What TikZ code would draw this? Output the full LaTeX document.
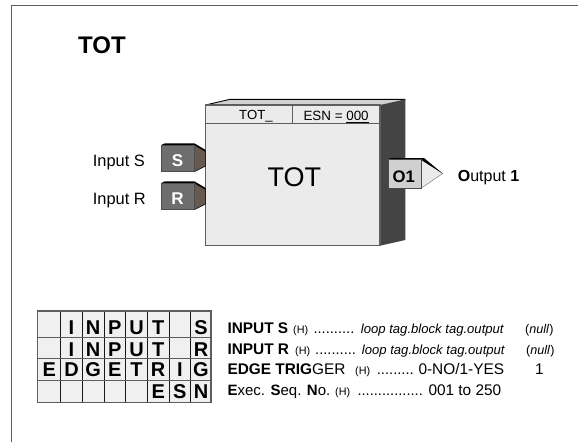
\documentclass[tikz,border=0pt]{standalone}
\usepackage{fontspec}
\setmainfont{Liberation Sans}
\usepackage{xcolor}
\definecolor{framegray}{HTML}{5E5E5E}
\definecolor{facegray}{HTML}{EBEBEB}
\definecolor{topgray}{HTML}{D2D2D2}
\definecolor{sidegray}{HTML}{444444}
\definecolor{inputgray}{HTML}{6E6E6E}
\definecolor{pinbrown}{HTML}{665A50}
\definecolor{outgray}{HTML}{D0D0D0}
\definecolor{cellgray}{HTML}{F0F0F0}
\newcommand{\fsize}[1]{\fontsize{#1}{#1}\selectfont}
\tikzset{
  txt/.style={inner sep=0pt, anchor=base west, text=black},
  mid/.style={inner sep=0pt, anchor=base, text=black},
  param/.style={txt, font=\fsize{15.4}},
  hold/.style={txt, font=\fsize{10.8}},
  leader/.style={txt, font=\fsize{14.7}},
  tagtext/.style={txt, font=\fsize{13.1}\itshape},
  nulltext/.style={txt, font=\fsize{12.6}},
  cell/.style={mid, font=\fsize{20}\bfseries},
  pinbox/.style={mid, font=\fsize{17}\bfseries, text=white},
}
\begin{document}
\begin{tikzpicture}[x=1pt, y=-1pt]
  \useasboundingbox (0,0) rectangle (578,442);
  % page frame
  \draw[framegray, line width=1.6pt] (11.5,442) -- (11.5,5.5) -- (578,5.5);
  \node[txt, font=\fsize{24}\bfseries] (title) at (78,53) {TOT};

  % block body
  \fill[topgray] (205.7,105) -- (230,99.3) -- (405.3,99.3) -- (380,105) -- cycle;
  \draw[black, line width=0.9pt] (205.7,105) -- (230,99.3) -- (405.3,99.3);
  \fill[sidegray] (380,105) -- (405.3,99.3) -- (405.3,240) -- (380,245.7) -- cycle;
  \draw[framegray, fill=facegray, line width=1.2pt] (205.7,105) rectangle (380,245.7);
  \draw[framegray, line width=1.2pt] (205.7,123.7) -- (380,123.7);
  \draw[framegray, line width=1.2pt] (292.7,105) -- (292.7,123.7);
  \node[txt, font=\fsize{13.2}] (tagname) at (239,119.3) {TOT\_};
  \node[txt, font=\fsize{13.4}] (esn) at (303.3,120.3) {ESN = \underline{000}};
  \node[txt, font=\fsize{27}] (blockname) at (267.5,186.7) {TOT};

  % inputs
  \foreach \name/\yy in {S/145, R/183} {
    \fill[black] (161.3,\yy) -- (165,\yy-1.7) -- (194.3,\yy-1.7) -- (205.7,\yy+5) -- (205.7,\yy+7) -- (194.3,\yy) -- cycle;
    \draw[black, fill=pinbrown, line width=0.5pt] (194.3,\yy) -- (205.7,\yy+6.7) -- (205.7,\yy+21) -- (194.3,\yy+26.7) -- cycle;
    \draw[black!70, fill=inputgray, line width=0.7pt] (161.3,\yy) rectangle (194.3,\yy+26.7);
    \node[pinbox] (pin\name) at (177.5,\yy+21) {\name};
    \node[txt, font=\fsize{16.4}] (label\name) at (92.7,\yy+21) {Input \name};
  }

  % output
  \draw[gray, fill=facegray, line width=0.5pt] (421,159.3) -- (442.7,173.5) -- (421,188.3) -- cycle;
  \fill[black] (388.3,159.3) -- (391,158) -- (424,158) -- (442.7,173.5) -- (421,159.8) -- cycle;
  \draw[black!70, fill=outgray, line width=0.8pt] (388.3,159.3) rectangle (421,188.3);
  \node[txt, font=\fsize{16.7}\bfseries] (pinO) at (392.5,182.7) {O1};
  \node[txt, font=\fsize{16}] (output) at (457.7,181.7) {\textbf{O}utput \textbf{1}};

  % parameter grid
  \fill[cellgray] (37.7,311) rectangle (211,402.3);
  \foreach \xx in {60.7,82.3,104,125.7,147.3,169,190.7}
    \draw[black!90, line width=1pt] (\xx,311) -- (\xx,402.3);
  \foreach \yy in {337.3,358.7,380.6}
    \draw[framegray, line width=1.1pt] (37.7,\yy) -- (211,\yy);
  \draw[framegray, line width=1.4pt] (37.7,311) rectangle (211,402.3);
  \foreach \xx/\ch/\idx in {71.5/I/2,93.2/N/3,114.9/P/4,136.5/U/5,158.2/T/6,201/S/8}
    \node[cell] (ca\idx) at (\xx,334) {\ch};
  \foreach \xx/\ch/\idx in {71.5/I/2,93.2/N/3,114.9/P/4,136.5/U/5,158.2/T/6,201/R/8}
    \node[cell] (cb\idx) at (\xx,356) {\ch};
  \foreach \xx/\ch/\idx in {49.2/E/1,71.5/D/2,93.2/G/3,114.9/E/4,136.5/T/5,158.2/R/6,179.8/I/7,201/G/8}
    \node[cell] (cc\idx) at (\xx,376.7) {\ch};
  \foreach \xx/\ch/\idx in {158.2/E/6,179.8/S/7,201/N/8}
    \node[cell] (cd\idx) at (\xx,398.3) {\ch};

  % parameter list
  \node[param] (ps) at (227.3,333.3) {\textbf{INPUT S}};
  \node[hold] (ps h) at (293,333.3) {(H)};
  \node[leader] (ps d) at (313.3,333.3) {..........};
  \node[tagtext] (ps v) at (360.7,333.3) {loop tag.block tag.output};
  \node[nulltext] (ps n) at (525,333.3) {(\textit{null})};

  \node[param] (pr) at (227.3,354) {\textbf{INPUT R}};
  \node[hold] (pr h) at (295,354) {(H)};
  \node[leader] (pr d) at (315,354) {..........};
  \node[tagtext] (pr v) at (361.7,354) {loop tag.block tag.output};
  \node[nulltext] (pr n) at (526,354) {(\textit{null})};

  \node[param] (pe) at (227.3,374.3) {\textbf{EDGE TRIG}GER};
  \node[hold] (pe h) at (355,374.3) {(H)};
  \node[leader] (pe d) at (376.7,374.3) {.........};
  \node[param] (pe v) at (418.3,374.3) {0-NO/1-YES};
  \node[param] (pe n) at (535,374.3) {1};

  \node[param, font=\fsize{15}] (px) at (227.3,395.7) {\textbf{E}xec. \textbf{S}eq. \textbf{N}o.};
  \node[hold] (px h) at (335,395.7) {(H)};
  \node[leader] (px d) at (357.3,395.7) {................};
  \node[param] (px v) at (428.3,395.7) {001 to 250};
\end{tikzpicture}
\end{document}
